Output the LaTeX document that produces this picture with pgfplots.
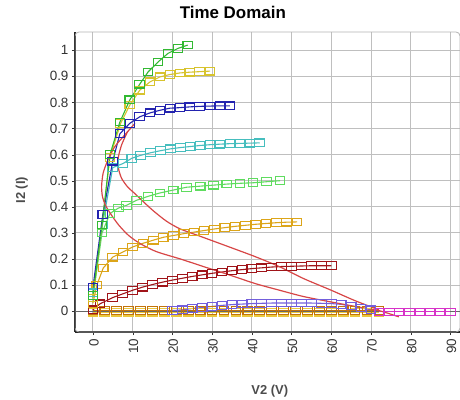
\documentclass[border=0pt]{standalone}
\usepackage{fontspec}
\setmainfont{Liberation Sans}
\usepackage{pgfplots}
\pgfplotsset{compat=1.18}

\definecolor{cGreen}{RGB}{50,185,50}
\definecolor{cYellow}{RGB}{215,195,45}
\definecolor{cBlue}{RGB}{35,35,175}
\definecolor{cCyan}{RGB}{70,190,190}
\definecolor{cLtGreen}{RGB}{95,220,95}
\definecolor{cGold}{RGB}{220,165,25}
\definecolor{cMaroon}{RGB}{160,20,25}
\definecolor{cPurple}{RGB}{115,95,220}
\definecolor{cOrange}{RGB}{195,115,10}
\definecolor{cPaleYel}{RGB}{235,200,60}
\definecolor{cMagenta}{RGB}{215,50,200}
\definecolor{cRed}{RGB}{215,70,70}

\begin{document}
\begin{tikzpicture}
\begin{axis}[
	name=ax, at={(0,0)}, anchor=south west,
	scale only axis, width=385bp, height=300bp,
	xmin=-4.5, xmax=92.4, ymin=-0.08, ymax=1.07,
	xtick={0,10,...,90}, ytick={0,0.1,...,1},
	yticklabel style={/pgf/number format/fixed, /pgf/number format/precision=1},
	/pgf/number format/assume math mode=true,
	ticklabel style={font=\fontsize{13.5}{15}\selectfont, text=black!80},
	xticklabel style={rotate=90, anchor=east, yshift=-1bp},
	grid=major, grid style={gray!50, line width=0.8pt},
	axis x line*=bottom, axis y line*=left,
	axis line style={black!85, line width=1.3pt, -},
	tick align=outside, major tick length=3bp, tick style={black!80},
	title={Time Domain},
	title style={at={(axis description cs:0.41,1)}, anchor=base, yshift=8bp,
		font=\fontsize{17}{19}\selectfont\bfseries},
	xlabel={V2 (V)}, ylabel={I2 (I)},
	xlabel style={at={(axis description cs:0.506,0)}, anchor=base, yshift=-62bp,
		font=\fontsize{13}{15}\selectfont\bfseries, text=black!70},
	ylabel style={at={(axis description cs:-0.138,0.473)}, anchor=center,
		font=\fontsize{13}{15}\selectfont\bfseries, text=black!70},
	every axis plot/.append style={line width=1.1pt, mark=square, mark size=4.4pt,
		mark options={solid, line width=1.1pt, xscale=1.1, yscale=0.88}},
	clip=true,
]
\draw[gray!60, rounded corners=4bp, line width=0.8pt] (rel axis cs:0,0) rectangle (rel axis cs:1,1);
\draw[black!60, line width=1.2pt] (axis cs:-4.5,0) -- (axis cs:92.4,0);

% zero-level sweeps
\addplot[cPaleYel] coordinates {
(0,-0.004) (3,-0.004) (6,-0.004) (9,-0.004) (12,-0.004) (15,-0.004) (18,-0.004)
(21,-0.004) (24,-0.004) (27,-0.004) (30,-0.004) (33,-0.004) (36,-0.004) (39,-0.004)
(42,-0.004) (45,-0.004) (48,-0.004) (51,-0.004) (54,-0.004) (57,-0.004) (60,-0.004)
(63,-0.004) (66,-0.004) (69,-0.004) (72,-0.004)
};
\addplot[cOrange] coordinates {
(0,0.002) (3,0.002) (6,0.002) (9,0.002) (12,0.002) (15,0.002) (18,0.002)
(21,0.002) (24,0.002) (27,0.002) (30,0.002) (33,0.002) (36,0.002) (39,0.002)
(42,0.002) (45,0.002) (48,0.002) (51,0.002) (54,0.002) (57,0.002) (60,0.002)
(63,0.002) (66,0.002) (69,0.002) (72,0.002)
};
\addplot[cMagenta] coordinates {
(72,-0.003) (74.6,-0.003) (77.1,-0.003) (79.7,-0.003) (82.3,-0.003) (84.9,-0.003)
(87.4,-0.003) (90,-0.003)
};
\addplot[cPurple] coordinates {
(20,0.002) (22.5,0.005) (25,0.01) (27.5,0.014) (30,0.018) (32.5,0.022) (35,0.025)
(37.5,0.027) (40,0.029) (42.5,0.03) (45,0.031) (47.5,0.031) (50,0.031) (52.5,0.031)
(55,0.031) (57.5,0.03) (60,0.029) (62.5,0.026) (65,0.02) (67.5,0.012) (70,0.005)
};
\addplot[cMaroon] coordinates {
(0,0.005) (1.8,0.028) (5,0.052) (7.5,0.066) (10,0.08) (12.5,0.092) (15,0.102)
(17.5,0.111) (20,0.119) (22.5,0.126) (25,0.133) (27.5,0.139) (30,0.145) (32.5,0.15)
(35,0.155) (37.5,0.159) (40,0.163) (42.5,0.166) (45,0.169) (47.5,0.171) (50,0.172)
(52.5,0.173) (55,0.174) (57.5,0.174) (60,0.174)
};
\addplot[cGold] coordinates {
(0,0.03) (1,0.1) (2.6,0.165) (5,0.207) (7.6,0.227) (10,0.246) (12.6,0.26) (15.2,0.272)
(17.7,0.283) (20.3,0.29) (22.9,0.297) (25.5,0.303) (28,0.309) (30.6,0.315) (33.2,0.32)
(35.8,0.325) (38.4,0.329) (41,0.333) (43.6,0.336) (46.2,0.339) (48.8,0.341) (51.4,0.342)
};
\addplot[cLtGreen] coordinates {
(0,0.05) (2.3,0.3) (4.3,0.374) (6.4,0.395) (8.5,0.406) (11,0.425) (13.9,0.44)
(16.9,0.453) (20.2,0.464) (23.6,0.475) (27,0.479) (30.3,0.483) (33.7,0.487) (37,0.49)
(40.3,0.492) (43.7,0.496) (47.1,0.5)
};
\addplot[cCyan] coordinates {
(0,0.07) (2.4,0.33) (5,0.55) (7.6,0.566) (9.8,0.586) (12,0.597) (14.5,0.607) (17,0.615)
(19.5,0.622) (22,0.627) (24.5,0.631) (27,0.635) (29.5,0.638) (32,0.64) (34.5,0.642)
(37,0.643) (39.5,0.644) (42,0.645)
};
\addplot[cYellow] coordinates {
(0,0.05) (2.3,0.33) (4.3,0.59) (7,0.72) (9.3,0.79) (11.8,0.847) (14.4,0.879) (16.9,0.898)
(19.4,0.907) (21.9,0.913) (24.4,0.916) (26.9,0.918) (29.5,0.92)
};
\addplot[cBlue] coordinates {
(0,0.09) (2.5,0.37) (5,0.575) (6.8,0.68) (9.3,0.72) (11.8,0.745) (14.4,0.76) (16.9,0.77)
(19.4,0.778) (21.9,0.78) (24.4,0.783) (26.9,0.785) (29.5,0.786) (32,0.787) (34.5,0.787)
};
\addplot[cGreen] coordinates {
(0,0.06) (2.3,0.33) (4.3,0.6) (6.8,0.725) (9.3,0.81) (11.8,0.87) (13.9,0.917)
(16.4,0.955) (18.9,0.988) (21.4,1.007) (23.9,1.02)
};

% load curves (no markers)
\addplot[cRed, no markers, smooth, tension=0.45, line width=1.2pt] coordinates {
(10.6,0.72) (8,0.675) (5.5,0.63) (3.8,0.58) (2.6,0.53) (2.2,0.48) (2.4,0.44) (3.2,0.405)
(4.6,0.37) (6.5,0.33) (9,0.29) (12,0.258) (16,0.228) (22,0.2) (28,0.17) (34.5,0.138)
(41,0.105) (47,0.08) (53,0.056) (60,0.035) (66,0.018) (72,0.002) (77,-0.022)
};
\addplot[cRed, no markers, smooth, tension=0.45, line width=1.2pt] coordinates {
(8.8,0.69) (7.3,0.64) (6.4,0.59) (6.4,0.55) (7.2,0.51) (8.7,0.477) (10.6,0.45)
(14.8,0.39) (18.5,0.345) (22,0.315) (27,0.287) (34.5,0.245) (41,0.208) (47,0.17)
(53,0.125) (60,0.08) (66,0.04) (72,0.005)
};
\end{axis}
\pgfresetboundingbox
\path[use as bounding box] (-75bp,-68bp) rectangle (385bp,332bp);
\end{tikzpicture}
\end{document}
